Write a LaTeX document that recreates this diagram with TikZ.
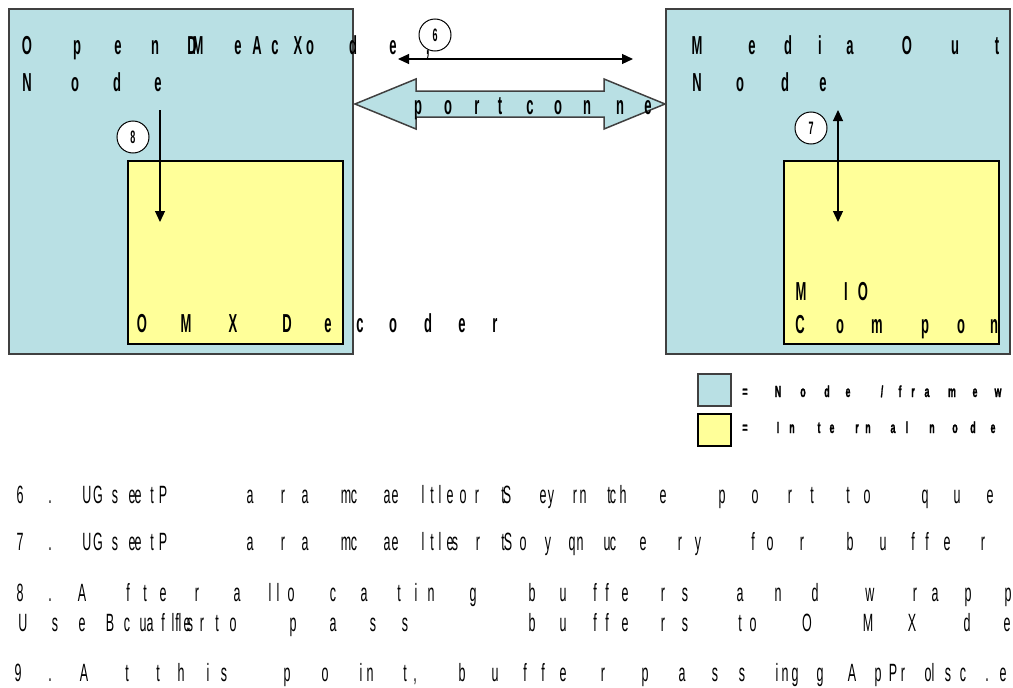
\documentclass[tikz,border=0pt]{standalone}
\usepackage{fontspec}
\setmainfont{Liberation Sans}[FakeStretch=0.5]
\newfontfamily\legfont{Liberation Sans Bold}[FakeStretch=0.55,FakeBold=1.2]
\usetikzlibrary{arrows.meta}
\definecolor{nodeblue}{HTML}{B9E0E4}
\definecolor{intyellow}{HTML}{FFFF99}
\definecolor{framegray}{HTML}{404040}
\tikzset{
 frm/.style={draw=framegray, line width=1.5pt, fill=nodeblue},
 innerbox/.style={draw=black, line width=1.2pt, fill=intyellow},
 head/.style={font=\fontsize{26}{30}\selectfont\bfseries, inner sep=0pt, anchor=base},
 body/.style={font=\fontsize{25}{30}\selectfont, inner sep=0pt, anchor=base},
 leg/.style={font=\legfont\fontsize{16}{18}\selectfont, inner sep=0pt, anchor=base},
 num/.style={circle, draw, fill=white, line width=1pt, minimum size=32pt, inner sep=0pt, font=\fontsize{18}{20}\selectfont\bfseries},
 arr/.style={line width=1.2pt, -{Triangle[length=11pt,width=10pt]}},
 darr/.style={line width=1.2pt, {Triangle[length=11pt,width=10pt]}-{Triangle[length=11pt,width=10pt]}},
}
\newcommand\glyphrow[3]{\foreach \gx/\gc in {#3}{\node[#1] at (\gx,#2) {\gc};}}
\begin{document}
\begin{tikzpicture}[x=1pt,y=-1pt]
\useasboundingbox (0,0) rectangle (1013,688);
% frames
\draw[frm] (9,9) rectangle (353,354) node[pos=0,anchor=north west,inner sep=0pt] (omxnode) {};
\draw[frm] (666,9) rectangle (1010,354) node[pos=0,anchor=north west,inner sep=0pt] (mediaout) {};
\draw[innerbox] (128,161) rectangle (343,344);
\draw[innerbox] (784,161) rectangle (999,344);
% block arrow
\draw[frm] (355,104) -- (416,79) -- (416,91) -- (604,91) -- (604,79) -- (665,104) -- (604,129) -- (604,117) -- (416,117) -- (416,129) -- cycle;
% legend
\draw[framegray, line width=1.2pt, fill=nodeblue] (698,374) rectangle (731,406);
\draw[black, line width=1.2pt, fill=intyellow] (698,414) rectangle (731,446);
% headings
\glyphrow{head}{54}{27/O,77/p,118/e,155/n,192/D,198/M,238/e,257/A,275/c,298/X,310/o,353/d,393/e}
\node[head] at (428,54) {,};
\glyphrow{head}{91}{27/N,75/o,117/d,158/e}
\glyphrow{head}{54}{697/M,752/e,788/d,820/i,850/a,907/O,955/u,997/t}
\glyphrow{head}{91}{697/N,740/o,785/d,823/e}
\glyphrow{head}{114}{418/p,448/o,477/r,500/t,530/c,558/o,587/n,620/n,648/e}
\glyphrow{head}{332}{142/O,186/M,233/X,287/D,328/e,360/c,393/o,428/d,462/e,495/r}
\glyphrow{head}{300}{801/M,846/I,863/O}
\begin{scope}
\clip (784,161) rectangle (999,344);
\glyphrow{head}{333}{800/C,840/o,877/m,925/p,961/o,994/n}
\end{scope}
% legend text
\glyphrow{leg}{397}{745/=,778/N,803/o,827/d,848/e,900/f,913/r,927/a,952/m,975/e,998/w}
\node[leg] at (882,397) {/};
\glyphrow{leg}{433}{745/=,778/I,792/n,819/t,832/e,857/r,868/n,893/a,907/l,932/n,955/o,973/d,993/e}
% bottom text
\glyphrow{body}{503}{20/6,50/.,87/U,98/G,115/s,132/e,138/e,152/t,163/P,250/a,283/r,305/a,346/m,354/c,387/a,395/e,423/l,432/t,440/l,450/e,463/o,477/r,503/t,507/S,543/e,551/y,575/r,583/n,609/t,613/c,623/h,663/e,722/p,755/o,790/r,812/t,848/t,867/o,925/q,957/u,990/e}
\glyphrow{body}{550}{20/7,50/.,87/U,98/G,115/s,132/e,138/e,152/t,163/P,250/a,283/r,305/a,346/m,354/c,387/a,395/e,423/l,432/t,440/l,450/e,455/s,478/r,503/t,508/S,523/o,548/y,572/q,580/n,607/u,613/c,643/e,680/r,698/y,753/f,770/o,802/r,850/b,883/u,913/f,927/f,947/e,983/r}
\glyphrow{body}{601}{20/8,50/.,82/A,128/f,145/t,163/e,197/r,237/a,270/l,278/l,291/o,333/c,364/a,399/t,416/i,431/n,473/g,532/b,563/u,595/f,607/f,625/e,663/r,685/s,740/a,778/n,815/d,870/w,915/r,935/a,968/p,1008/p}
\glyphrow{body}{631}{23/U,55/s,82/e,110/B,127/c,143/u,150/a,163/f,173/l,177/f,180/l,187/e,190/s,202/r,217/t,233/o,293/p,333/a,373/s,405/s,532/b,563/u,595/f,607/f,625/e,663/r,685/s,740/t,753/o,807/O,868/M,912/X,967/d,1007/e}
\glyphrow{body}{681}{18/9,50/.,84/A,127/t,158/t,181/h,208/i,224/s,287/p,325/o,361/i,370/n,405/t,462/b,495/u,525/f,543/f,563/e,603/r,645/p,682/a,715/s,742/s,777/i,785/n,795/g,820/g,852/A,878/p,893/P,903/r,928/o,933/l,948/s,963/c,987/.,1003/e}
\node[body] at (415,681) {,};
% connectors
\coordinate (sixL) at (398,59);
\coordinate (sixR) at (633,59);
\draw[darr] (sixL) -- (sixR);
\coordinate (eightS) at (160,110);
\coordinate (eightE) at (160,222);
\draw[arr] (eightS) -- (eightE);
\coordinate (sevenS) at (838,110);
\coordinate (sevenE) at (838,222);
\draw[darr] (sevenS) -- (sevenE);
% numbered circles
\node[num] (c6) at (435,35) {6};
\node[num] (c8) at (133,137) {8};
\node[num] (c7) at (811,128) {7};
\end{tikzpicture}
\end{document}
